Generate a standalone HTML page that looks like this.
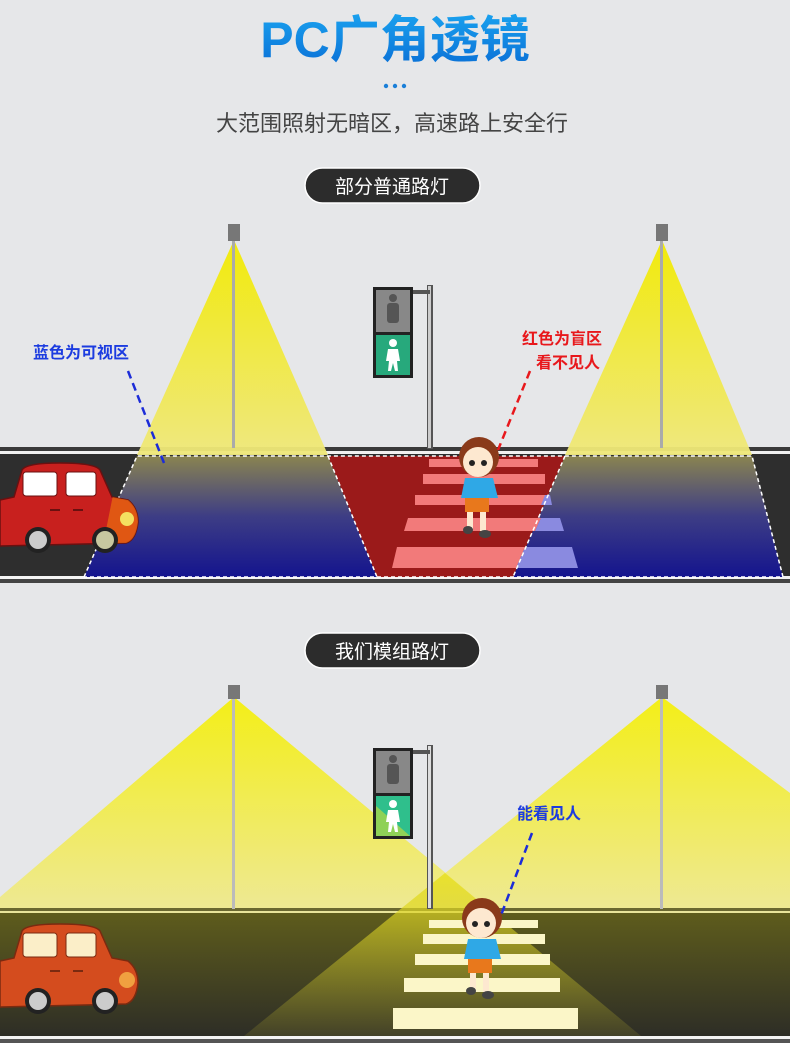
<!DOCTYPE html>
<html><head><meta charset="utf-8"><style>
html,body{margin:0;padding:0;background:#e6e7e9;}
svg{display:block}
</style></head><body>
<svg width="790" height="1043" viewBox="0 0 790 1043" xmlns="http://www.w3.org/2000/svg" font-family="'Liberation Sans','Noto Sans CJK SC',sans-serif">
<defs>
<linearGradient id="cone" x1="0" y1="0" x2="0" y2="1"><stop offset="0" stop-color="#f2ea00"/><stop offset="1" stop-color="#efe87a"/></linearGradient>
<linearGradient id="blue" x1="0" y1="0" x2="0" y2="1"><stop offset="0" stop-color="#8a8450"/><stop offset="0.5" stop-color="#3d3d85"/><stop offset="1" stop-color="#14148e"/></linearGradient>
<linearGradient id="road2" x1="0" y1="0" x2="0" y2="1"><stop offset="0" stop-color="#5e5c1c"/><stop offset="1" stop-color="#2e2e26"/></linearGradient>
<linearGradient id="cone2" x1="0" y1="0" x2="0" y2="1"><stop offset="0" stop-color="#f5ef00"/><stop offset="1" stop-color="#efe98a"/></linearGradient>
<linearGradient id="rcone" x1="0" y1="0" x2="0" y2="1"><stop offset="0" stop-color="#e8e020" stop-opacity="0.85"/><stop offset="1" stop-color="#b8b030" stop-opacity="0.15"/></linearGradient>
<linearGradient id="title" x1="0" y1="0" x2="0" y2="1"><stop offset="0" stop-color="#1aa2ef"/><stop offset="1" stop-color="#0a6fd6"/></linearGradient>
<clipPath id="carclip"><path d="M0 500 L14 497 L22 470 Q26 463 60 463 Q95 463 100 470 L112 497 L128 500 Q138 508 138 522 Q136 540 126 543 L0 546Z"/></clipPath>
</defs>
<rect width="790" height="1043" fill="#e6e7e9"/>
<text x="395" y="57" text-anchor="middle" font-size="50" font-weight="bold" fill="url(#title)">PC广角透镜</text>
<circle cx="386" cy="86" r="2.2" fill="#1a7fd8"/><circle cx="395" cy="86" r="2.2" fill="#1a7fd8"/><circle cx="404" cy="86" r="2.2" fill="#1a7fd8"/>
<text x="392" y="131" text-anchor="middle" font-size="22" fill="#444">大范围照射无暗区，高速路上安全行</text>
<rect x="305" y="168" width="175" height="35" rx="17.5" fill="#2c2c2c" stroke="#fff" stroke-width="1.5"/>
<text x="392" y="193" text-anchor="middle" font-size="19" fill="#fff">部分普通路灯</text>

<!-- scene 1 -->
<rect x="0" y="447" width="790" height="4" fill="#3a3a3a"/>
<rect x="0" y="451" width="790" height="3" fill="#f0f0f0"/>
<rect x="0" y="454" width="790" height="122" fill="#2e2e2e"/>
<rect x="0" y="576" width="790" height="3" fill="#f4f4f4"/>
<rect x="0" y="579" width="790" height="4" fill="#444"/>
<polygon points="234,240 137,455 328,455" fill="url(#cone)" opacity="0.95"/>
<polygon points="662,240 565,455 752,455" fill="url(#cone)" opacity="0.95"/>
<rect x="232" y="240" width="3" height="208" fill="#aaa"/>
<rect x="660" y="240" width="3" height="208" fill="#aaa"/>
<rect x="228" y="224" width="12" height="17" fill="#777"/>
<rect x="656" y="224" width="12" height="17" fill="#777"/>
<polygon points="137,456 328,456 377,577 84,577" fill="url(#blue)"/>
<polygon points="565,456 752,456 783,577 513,577" fill="url(#blue)"/>
<polygon points="328,456 565,456 513,577 377,577" fill="#9b1a1a"/>
<g fill="#f27a7a">
<rect x="429" y="459" width="109" height="8"/><rect x="423" y="474" width="122" height="10"/>
<rect x="415" y="495" width="135" height="10"/><polygon points="408,518 541,518 535,531 404,531"/><polygon points="397,547 525,547 516,568 392,568"/>
</g>
<g fill="#8a8ae0"><polygon points="541,518 560,518 564,531 535,531"/><polygon points="525,547 572,547 578,568 516,568"/><polygon points="545,495 550,495 552,505 541,505"/></g>
<polyline points="84,577 137,456 752,456 783,577 84,577" fill="none" stroke="#fff" stroke-width="1.5" stroke-dasharray="4,3"/>
<line x1="328" y1="456" x2="377" y2="577" stroke="#fff" stroke-width="1.5" stroke-dasharray="4,3"/>
<line x1="565" y1="456" x2="513" y2="577" stroke="#fff" stroke-width="1.5" stroke-dasharray="4,3"/>
<!-- car 1 (on top) -->
<g>
<path d="M0 500 L14 497 L22 470 Q26 463 60 463 Q95 463 100 470 L112 497 L128 500 Q138 508 138 522 Q136 540 126 543 L0 546Z" fill="#c8201e" stroke="#6a1010" stroke-width="1.5"/>
<polygon points="120,460 150,460 150,560 100,560" fill="#e86a10" opacity="0.75" clip-path="url(#carclip)"/>
<rect x="23" y="472" width="34" height="24" rx="3" fill="#fff" stroke="#6a1010"/><rect x="66" y="472" width="30" height="24" rx="3" fill="#fff" stroke="#6a1010"/>
<rect x="50" y="509" width="10" height="2" fill="#6a1010"/><rect x="73" y="509" width="10" height="2" fill="#6a1010"/>
<circle cx="127" cy="519" r="7" fill="#f4e060"/>
<circle cx="38" cy="540" r="13" fill="#222"/><circle cx="38" cy="540" r="9" fill="#ccc"/>
<circle cx="105" cy="540" r="13" fill="#222"/><circle cx="105" cy="540" r="9" fill="#c8c8a0"/>
</g>
<!-- traffic light 1 -->
<rect x="427" y="285" width="6" height="164" fill="#555"/><rect x="428" y="286" width="3" height="162" fill="#ccc"/>
<rect x="410" y="290" width="20" height="4" fill="#555"/>
<rect x="373" y="287" width="40" height="91" fill="#222"/>
<rect x="376" y="290" width="34" height="42" fill="#888"/>
<rect x="376" y="335" width="34" height="40" fill="#27a97c"/>
<circle cx="393" cy="298" r="4" fill="#555"/><rect x="387" y="303" width="12" height="20" rx="3" fill="#555"/>
<circle cx="393" cy="343" r="4" fill="#fff"/><path d="M388 349 h10 l2 12 h-3 l1 10 h-3 l-2-8 -2 8 h-3 l1-10 h-3z" fill="#fff"/>
<!-- kid 1 -->
<g id="kid">
<ellipse cx="479" cy="457" rx="20" ry="20" fill="#8a3a1a"/>
<ellipse cx="478" cy="462" rx="15" ry="15" fill="#fde8d0"/>
<path d="M460 452 Q478 432 498 452 L492 448 Q480 444 466 450Z" fill="#8a3a1a"/>
<circle cx="472" cy="463" r="3" fill="#222"/><circle cx="484" cy="463" r="3" fill="#222"/>
<path d="M465 478 L493 478 L498 498 L461 498Z" fill="#2fa8e6"/>
<rect x="465" y="498" width="24" height="14" fill="#e8781c"/>
<rect x="467" y="512" width="6" height="17" fill="#fde8d0"/><rect x="480" y="512" width="6" height="19" fill="#fde8d0"/>
<ellipse cx="468" cy="530" rx="5" ry="4" fill="#444"/><ellipse cx="485" cy="534" rx="6" ry="4" fill="#444"/>
</g>
<!-- labels 1 -->
<text x="33" y="358" font-size="16" font-weight="bold" fill="#1c3ce0">蓝色为可视区</text>
<line x1="128" y1="371" x2="164" y2="463" stroke="#1c2cd8" stroke-width="2.5" stroke-dasharray="8,5"/>
<text x="522" y="344" font-size="16" font-weight="bold" fill="#e8181c">红色为盲区</text>
<text x="536" y="368" font-size="16" font-weight="bold" fill="#e8181c">看不见人</text>
<line x1="530" y1="371" x2="498" y2="450" stroke="#e8181c" stroke-width="2.5" stroke-dasharray="8,5"/>

<!-- pill 2 -->
<rect x="305" y="633" width="175" height="35" rx="17.5" fill="#2c2c2c" stroke="#fff" stroke-width="1.5"/>
<text x="392" y="658" text-anchor="middle" font-size="19" fill="#fff">我们模组路灯</text>

<!-- scene 2 -->
<polygon points="234,697 0,897 0,909 489,909" fill="url(#cone2)" opacity="0.9"/>
<polygon points="662,697 790,793 790,909 401,909" fill="url(#cone2)" opacity="0.9"/>
<rect x="0" y="908" width="790" height="3" fill="#6a6830"/>
<rect x="0" y="911" width="790" height="2" fill="#e8e49a"/>
<rect x="0" y="913" width="790" height="123" fill="url(#road2)"/>
<rect x="0" y="1036" width="790" height="3" fill="#f4f4f4"/>
<rect x="0" y="1039" width="790" height="4" fill="#555"/>
<polygon points="445,873 244,1036 641,1036" fill="url(#rcone)"/>
<rect x="232" y="697" width="3" height="212" fill="#bbb"/>
<rect x="660" y="697" width="3" height="212" fill="#bbb"/>
<rect x="228" y="685" width="12" height="14" fill="#777"/>
<rect x="656" y="685" width="12" height="14" fill="#777"/>
<g fill="#fbf6c8">
<rect x="429" y="920" width="109" height="8"/><rect x="423" y="934" width="122" height="10"/>
<rect x="415" y="954" width="135" height="11"/><rect x="404" y="978" width="156" height="14"/><rect x="393" y="1008" width="185" height="21"/>
</g>
<!-- traffic light 2 -->
<rect x="427" y="745" width="6" height="164" fill="#555"/><rect x="428" y="746" width="3" height="162" fill="#ddd"/>
<rect x="410" y="750" width="20" height="4" fill="#555"/>
<rect x="373" y="748" width="40" height="91" fill="#222"/>
<rect x="376" y="751" width="34" height="42" fill="#888"/>
<rect x="376" y="796" width="34" height="40" fill="#2fbf8c"/>
<polygon points="376,806 410,836 376,836" fill="#b8d840" opacity="0.7"/>
<circle cx="393" cy="759" r="4" fill="#555"/><rect x="387" y="764" width="12" height="20" rx="3" fill="#555"/>
<circle cx="393" cy="804" r="4" fill="#fff"/><path d="M388 810 h10 l2 12 h-3 l1 10 h-3 l-2-8 -2 8 h-3 l1-10 h-3z" fill="#fff"/>
<!-- car 2 -->
<g transform="translate(0,461)">
<path d="M0 500 L14 497 L22 470 Q26 463 60 463 Q95 463 100 470 L112 497 L128 500 Q138 508 138 522 Q136 540 126 543 L0 546Z" fill="#d44c1e" stroke="#7a2a10" stroke-width="1.5"/>
<rect x="23" y="472" width="34" height="24" rx="3" fill="#fbeec8" stroke="#7a2a10"/><rect x="66" y="472" width="30" height="24" rx="3" fill="#fbeec8" stroke="#7a2a10"/>
<rect x="50" y="509" width="10" height="2" fill="#7a2a10"/><rect x="73" y="509" width="10" height="2" fill="#7a2a10"/>
<circle cx="127" cy="519" r="8" fill="#f0a040"/>
<circle cx="38" cy="540" r="13" fill="#222"/><circle cx="38" cy="540" r="9" fill="#ccc"/>
<circle cx="105" cy="540" r="13" fill="#222"/><circle cx="105" cy="540" r="9" fill="#ccc"/>
</g>
<use href="#kid" transform="translate(3,461)"/>
<text x="517" y="819" font-size="16" font-weight="bold" fill="#1c3ce0">能看见人</text>
<line x1="532" y1="833" x2="500" y2="918" stroke="#1c2cd8" stroke-width="2.5" stroke-dasharray="8,5"/>
</svg>
</body></html>
